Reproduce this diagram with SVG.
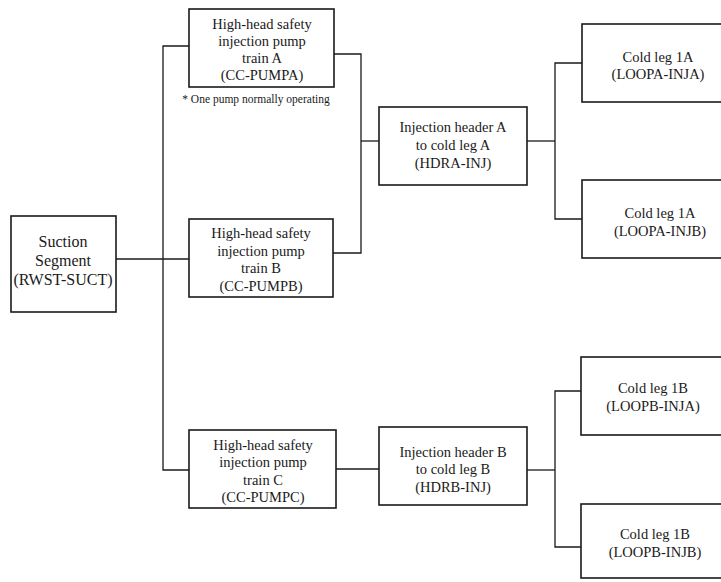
<svg xmlns="http://www.w3.org/2000/svg" width="721" height="582" viewBox="0 0 721 582">
<style>
.box{fill:#fff;stroke:#1a1a1a;stroke-width:1.6}
.ln{fill:none;stroke:#1a1a1a;stroke-width:1.3}
text{font-family:"Liberation Serif","Times New Roman",serif;fill:#1a1a1a;text-anchor:middle}
.t{font-size:14.5px}
.s{font-size:16px}
.n{font-size:11.5px}
</style>
<rect width="721" height="582" fill="#fff"/>
<g id="connectors">
<path class="ln" d="M116 259H189"/>
<path class="ln" d="M189 46H163V470H189"/>
<path class="ln" d="M334 54H361V253H333"/>
<path class="ln" d="M361 141H379"/>
<path class="ln" d="M336 469H379"/>
<path class="ln" d="M527 141H555"/>
<path class="ln" d="M582 63H555V219H582"/>
<path class="ln" d="M527 470H555"/>
<path class="ln" d="M581 391H555V547H581"/>
</g>
<g id="suction">
<rect class="box" x="11" y="216" width="105" height="96"/>
<text class="s" x="63" y="247">Suction</text>
<text class="s" x="63" y="266">Segment</text>
<text class="s" x="63" y="285">(RWST-SUCT)</text>
</g>
<g id="pumpA">
<rect class="box" x="189" y="9" width="145" height="78"/>
<text class="t" x="262" y="29">High-head safety</text>
<text class="t" x="262" y="46">injection pump</text>
<text class="t" x="262" y="63">train A</text>
<text class="t" x="262" y="80">(CC-PUMPA)</text>
</g>
<g id="note">
<text class="n" x="256" y="103">* One pump normally operating</text>
</g>
<g id="pumpB">
<rect class="box" x="189" y="219" width="144" height="78"/>
<text class="t" x="261" y="238">High-head safety</text>
<text class="t" x="261" y="256">injection pump</text>
<text class="t" x="261" y="273">train B</text>
<text class="t" x="261" y="291">(CC-PUMPB)</text>
</g>
<g id="pumpC">
<rect class="box" x="189" y="430" width="147" height="78"/>
<text class="t" x="263" y="450">High-head safety</text>
<text class="t" x="263" y="467">injection pump</text>
<text class="t" x="263" y="485">train C</text>
<text class="t" x="263" y="502">(CC-PUMPC)</text>
</g>
<g id="headerA">
<rect class="box" x="379" y="107" width="148" height="78"/>
<text class="t" x="453" y="132">Injection header A</text>
<text class="t" x="453" y="150">to cold leg A</text>
<text class="t" x="453" y="168">(HDRA-INJ)</text>
</g>
<g id="headerB">
<rect class="box" x="379" y="427" width="148" height="78"/>
<text class="t" x="453" y="457">Injection header B</text>
<text class="t" x="453" y="474">to cold leg B</text>
<text class="t" x="453" y="492">(HDRB-INJ)</text>
</g>
<g id="coldA1">
<rect class="box" x="582" y="24" width="150" height="78"/>
<text class="t" x="658" y="62">Cold leg 1A</text>
<text class="t" x="658" y="79">(LOOPA-INJA)</text>
</g>
<g id="coldA2">
<rect class="box" x="582" y="180" width="150" height="78"/>
<text class="t" x="660" y="218">Cold leg 1A</text>
<text class="t" x="660" y="236">(LOOPA-INJB)</text>
</g>
<g id="coldB1">
<rect class="box" x="581" y="357" width="150" height="78"/>
<text class="t" x="653" y="393">Cold leg 1B</text>
<text class="t" x="653" y="411">(LOOPB-INJA)</text>
</g>
<g id="coldB2">
<rect class="box" x="581" y="504" width="150" height="74"/>
<text class="t" x="655" y="539">Cold leg 1B</text>
<text class="t" x="655" y="557">(LOOPB-INJB)</text>
</g>
</svg>
